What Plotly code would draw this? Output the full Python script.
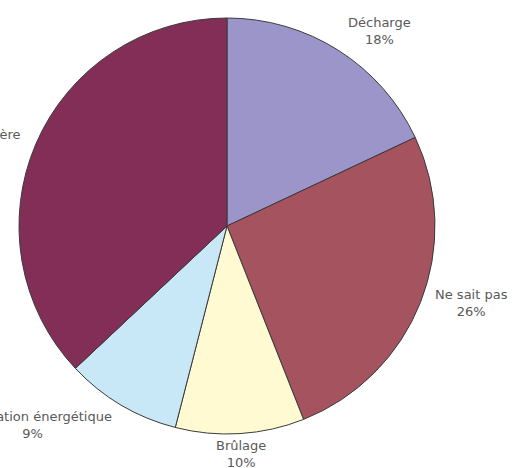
import math
import plotly.graph_objects as go

labels = ["Décharge", "Ne sait pas", "Brûlage", "Valorisation énergétique", "Valorisation matière"]
values = [18, 26, 10, 9, 37]
colors = ["#9b95c9", "#a5535f", "#fffad2", "#c8e8f8", "#832e57"]

W, H = 513, 468
cx, cy, r = 227, 226, 208

fig = go.Figure(go.Pie(
    labels=labels,
    values=values,
    sort=False,
    direction="clockwise",
    rotation=0,
    marker=dict(colors=colors, line=dict(color="#3a3a3a", width=1)),
    textinfo="none",
    showlegend=False,
    domain=dict(x=[(cx - r) / W, (cx + r) / W], y=[(H - cy - r) / H, (H - cy + r) / H]),
    hoverinfo="label+percent",
))

# outside labels placed along each slice's mid-angle
total = sum(values)
Rx, Ry = r + 14, r + 2
cum = 0
annotations = []
for lab, v in zip(labels, values):
    mid = (cum + v / 2) / total * 2 * math.pi
    cum += v
    s, c = math.sin(mid), math.cos(mid)
    px = cx + Rx * s
    py = cy - Ry * c
    xa = "center" if abs(s) < 0.3 else ("left" if s > 0 else "right")
    ya = "middle" if abs(c) < 0.8 else ("bottom" if c > 0 else "top")
    annotations.append(dict(
        x=px / W, y=(H - py) / H, xref="paper", yref="paper",
        text=f"{lab}<br>{round(v / total * 100)}%",
        showarrow=False, xanchor=xa, yanchor=ya, align="center",
        font=dict(family="DejaVu Sans", size=13, color="#595959"),
    ))

fig.update_layout(
    width=W, height=H,
    margin=dict(l=0, r=0, t=0, b=0),
    paper_bgcolor="white",
    plot_bgcolor="white",
    annotations=annotations,
)
fig.write_html(
    "out.html",
    config={"displayModeBar": False},
    post_script="document.body.style.margin='0';document.body.style.overflow='hidden';",
)
